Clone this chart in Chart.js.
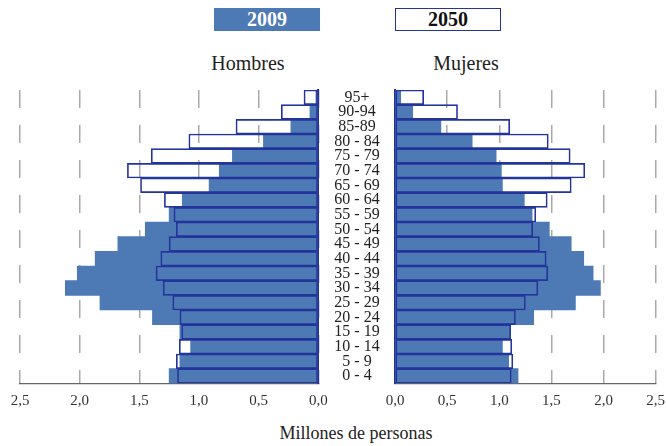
<!DOCTYPE html>
<html>
<head>
<meta charset="utf-8">
<script src="https://cdn.jsdelivr.net/npm/chart.js@4.4.1/dist/chart.umd.min.js"></script>
<style>
  body { margin: 0; background: #fff; }
  #wrap { position: relative; width: 666px; height: 446px; font-family: 'Liberation Serif', 'Times New Roman', serif; color: #222; }
  canvas { position: absolute; left: 0; top: 0; }
  .txt { position: absolute; text-align: center; white-space: nowrap; }
  .box { position: absolute; top: 8px; width: 106px; height: 23px; line-height: 23px; font-weight: bold; font-size: 20px; text-align: center; box-sizing: border-box; }
</style>
</head>
<body>
<div id="wrap">
  <div class="box" style="left:214px; background:#4d79b4; color:#fff;">2009</div>
  <div class="box" style="left:395px; background:#fff; color:#111; border:1.5px solid #23359a; line-height:20px;">2050</div>
  <div class="txt" style="left:148px; width:200px; top:53px; font-size:20px; line-height:20px;">Hombres</div>
  <div class="txt" style="left:366px; width:200px; top:53px; font-size:20px; line-height:20px;">Mujeres</div>
  <div class="txt" style="left:256px; width:200px; top:424px; font-size:18px; line-height:18px;">Millones de personas</div>
  <canvas id="hombres" width="666" height="446"></canvas>
  <canvas id="mujeres" width="666" height="446"></canvas>
</div>
<script>
// grupos de edad, de arriba hacia abajo
const edades = ['95+', '90-94', '85-89', '80 - 84', '75 - 79', '70 - 74', '65 - 69', '60 - 64', '55 - 59', '50 - 54',
  '45 - 49', '40 - 44', '35 - 39', '30 - 34', '25 - 29', '20 - 24', '15 - 19', '10 - 14', '5 - 9', '0 - 4'];

// millones de personas
const hombres2009 = [0.02, 0.07, 0.23, 0.46, 0.72, 0.83, 0.915, 1.14, 1.25, 1.45, 1.68, 1.87, 2.02, 2.12, 1.83, 1.39, 1.16, 1.07, 1.16, 1.25];
const hombres2050 = [0.12, 0.31, 0.69, 1.085, 1.40, 1.60, 1.49, 1.29, 1.21, 1.19, 1.25, 1.32, 1.36, 1.30, 1.22, 1.16, 1.145, 1.165, 1.19, 1.18];
const mujeres2009 = [0.055, 0.17, 0.44, 0.74, 0.97, 1.02, 1.03, 1.24, 1.315, 1.48, 1.69, 1.81, 1.90, 1.97, 1.73, 1.33, 1.10, 1.03, 1.09, 1.18];
const mujeres2050 = [0.275, 0.60, 1.10, 1.47, 1.68, 1.82, 1.69, 1.46, 1.35, 1.32, 1.385, 1.45, 1.465, 1.37, 1.25, 1.155, 1.11, 1.12, 1.13, 1.115];

const ejeTicks = [0, 0.5, 1, 1.5, 2, 2.5];

const AZUL = '#4d79b4';
const MARINO = '#23359a';

Chart.defaults.font.family = "'Liberation Serif', 'Times New Roman', serif";
Chart.defaults.color = '#333';

function crearPiramide(canvasId, datos2009, datos2050, izquierda) {
  const ctx = document.getElementById(canvasId).getContext('2d');
  return new Chart(ctx, {
    type: 'bar',
    data: {
      labels: edades,
      datasets: [
        {
          label: '2050',
          data: datos2050,
          order: 1,
          grouped: false,
          backgroundColor: 'rgba(255,255,255,0)',
          borderColor: MARINO,
          borderWidth: 1,
          borderSkipped: false,
          barPercentage: 1,
          categoryPercentage: 1,
        },
        {
          label: '2009',
          data: datos2009,
          order: 2,
          grouped: false,
          backgroundColor: AZUL,
          borderWidth: 0,
          barPercentage: 1,
          categoryPercentage: 1,
        },
      ],
    },
    options: {
      indexAxis: 'y',
      responsive: false,
      animation: false,
      events: [],
      layout: {
        padding: izquierda
          ? { top: 90, left: 20, right: 271, bottom: 0 }
          : { top: 90, left: 395, right: 10.3, bottom: 0 },
      },
      plugins: { legend: { display: false }, tooltip: { enabled: false } },
      scales: {
        x: {
          min: 0,
          max: 2.5,
          reverse: izquierda,
          afterBuildTicks: (scale) => { scale.ticks = ejeTicks.map((v) => ({ value: v })); },
          afterFit: (scale) => {
            scale.height = 62.7;
            scale.paddingLeft = 0;
            scale.paddingRight = 0;
          },
          grid: { color: '#a9a9a9', lineWidth: 1.5, drawTicks: false },
          border: { display: true, color: '#666', width: 1.2, dash: [18, 17] },
          ticks: {
            padding: 9,
            font: { size: 15 },
            color: '#333',
            callback: (v) => Number(v).toFixed(1).replace('.', ','),
          },
        },
        y: {
          position: izquierda ? 'right' : 'left',
          afterFit: (scale) => {
            scale.width = izquierda ? 76.7 : 0;
            scale.paddingTop = 0;
            scale.paddingBottom = 0;
          },
          grid: { display: false, drawTicks: false },
          border: { display: true, color: MARINO, width: 2 },
          ticks: {
            display: izquierda,
            autoSkip: false,
            crossAlign: 'center',
            padding: 16,
            font: { size: 16 },
            color: '#222',
          },
        },
      },
    },
  });
}

crearPiramide('hombres', hombres2009, hombres2050, true);
crearPiramide('mujeres', mujeres2009, mujeres2050, false);
</script>
</body>
</html>
